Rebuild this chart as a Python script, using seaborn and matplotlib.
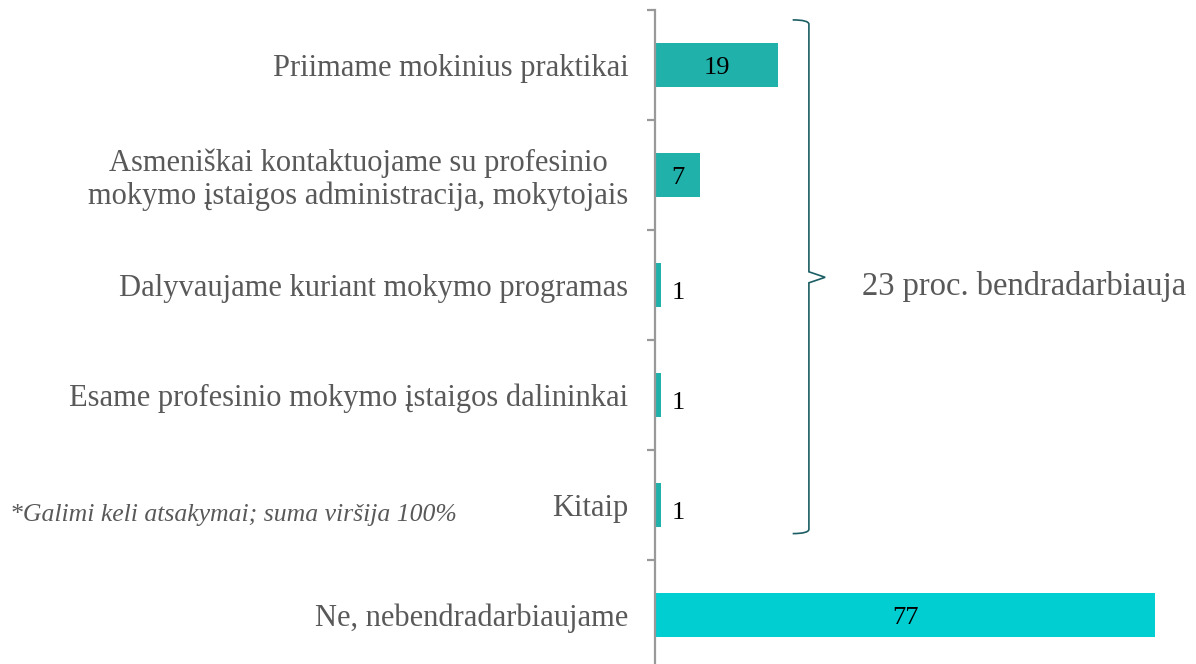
import matplotlib
import matplotlib.pyplot as plt
import seaborn as sns
from matplotlib.path import Path
from matplotlib.patches import PathPatch

matplotlib.rcParams['font.family'] = ['Liberation Serif', 'DejaVu Serif']

# data
categories = ["Priimame mokinius praktikai",
              "Asmeniškai kontaktuojame su profesinio\nmokymo įstaigos administracija, mokytojais",
              "Dalyvaujame kuriant mokymo programas",
              "Esame profesinio mokymo įstaigos dalininkai",
              "Kitaip",
              "Ne, nebendradarbiaujame"]
values = [19, 7, 1, 1, 1, 77]
bar_colors = ["#20B2AA", "#20B2AA", "#20B2AA", "#20B2AA", "#20B2AA", "#00CED1"]
brace_text = "23 proc. bendradarbiauja"
note = "*Galimi keli atsakymai; suma viršija 100%"

W, H = 1196, 664
fig = plt.figure(figsize=(W / 100, H / 100), dpi=100)
ax = fig.add_axes([655 / W, -6 / H, 541 / W, 660 / H])

sns.barplot(x=values, y=categories, hue=categories, palette=bar_colors,
            legend=False, width=0.4, orient="h", ax=ax, saturation=1)

ax.set_xlim(0, 541 / 6.494)
ax.set_ylim(len(categories) - 0.5, -0.5)
ax.set_xticks([])
ax.set_xlabel("")
ax.set_ylabel("")
for s in ["top", "right", "bottom"]:
    ax.spines[s].set_visible(False)
ax.spines["left"].set_color("#999999")
ax.spines["left"].set_linewidth(1.6)

# tick marks sit between categories
ax.set_yticks([i - 0.5 for i in range(len(categories) + 1)], minor=True)
ax.tick_params(axis="y", which="major", length=0, pad=19, labelsize=22, labelcolor="#595959")
ax.tick_params(axis="y", which="minor", length=6, width=1.6, color="#999999")
for lab in ax.get_yticklabels():
    lab.set_multialignment("center")
    lab.set_linespacing(1.12)

# value labels
for i, v in enumerate(values):
    if v >= 5:
        ax.text(v / 2, i, str(v), ha="center", va="center_baseline", fontsize=19, color="black")
    else:
        ax.text(v + 2.6, i + 0.05, str(v), ha="center", va="center_baseline", fontsize=19, color="black")

# curly brace grouping the "yes" answers
bx = 23.7
y0, y1 = -0.4, 4.25
ym = 1.93
verts = [(bx - 2.5, y0 - 0.01), (bx, y0 - 0.01), (bx, y0 + 0.03),
         (bx, ym - 0.05),
         (bx + 2.5, ym),
         (bx, ym + 0.05),
         (bx, y1 - 0.03), (bx, y1 + 0.01), (bx - 2.5, y1 + 0.01)]
codes = [Path.MOVETO, Path.CURVE3, Path.CURVE3,
         Path.LINETO, Path.LINETO, Path.LINETO,
         Path.LINETO, Path.CURVE3, Path.CURVE3]
ax.add_patch(PathPatch(Path(verts, codes), fill=False, edgecolor="#1B5E63", lw=1.2,
                       clip_on=False))
ax.text(bx + 8.2, ym + 0.05, brace_text, ha="left", va="center_baseline", fontsize=23.5,
        color="#595959")

fig.text(10 / W, 1 - 512 / H, note, ha="left", va="center_baseline", fontsize=18.5,
         style="italic", color="#595959")

fig.savefig("out.png", dpi=100)
